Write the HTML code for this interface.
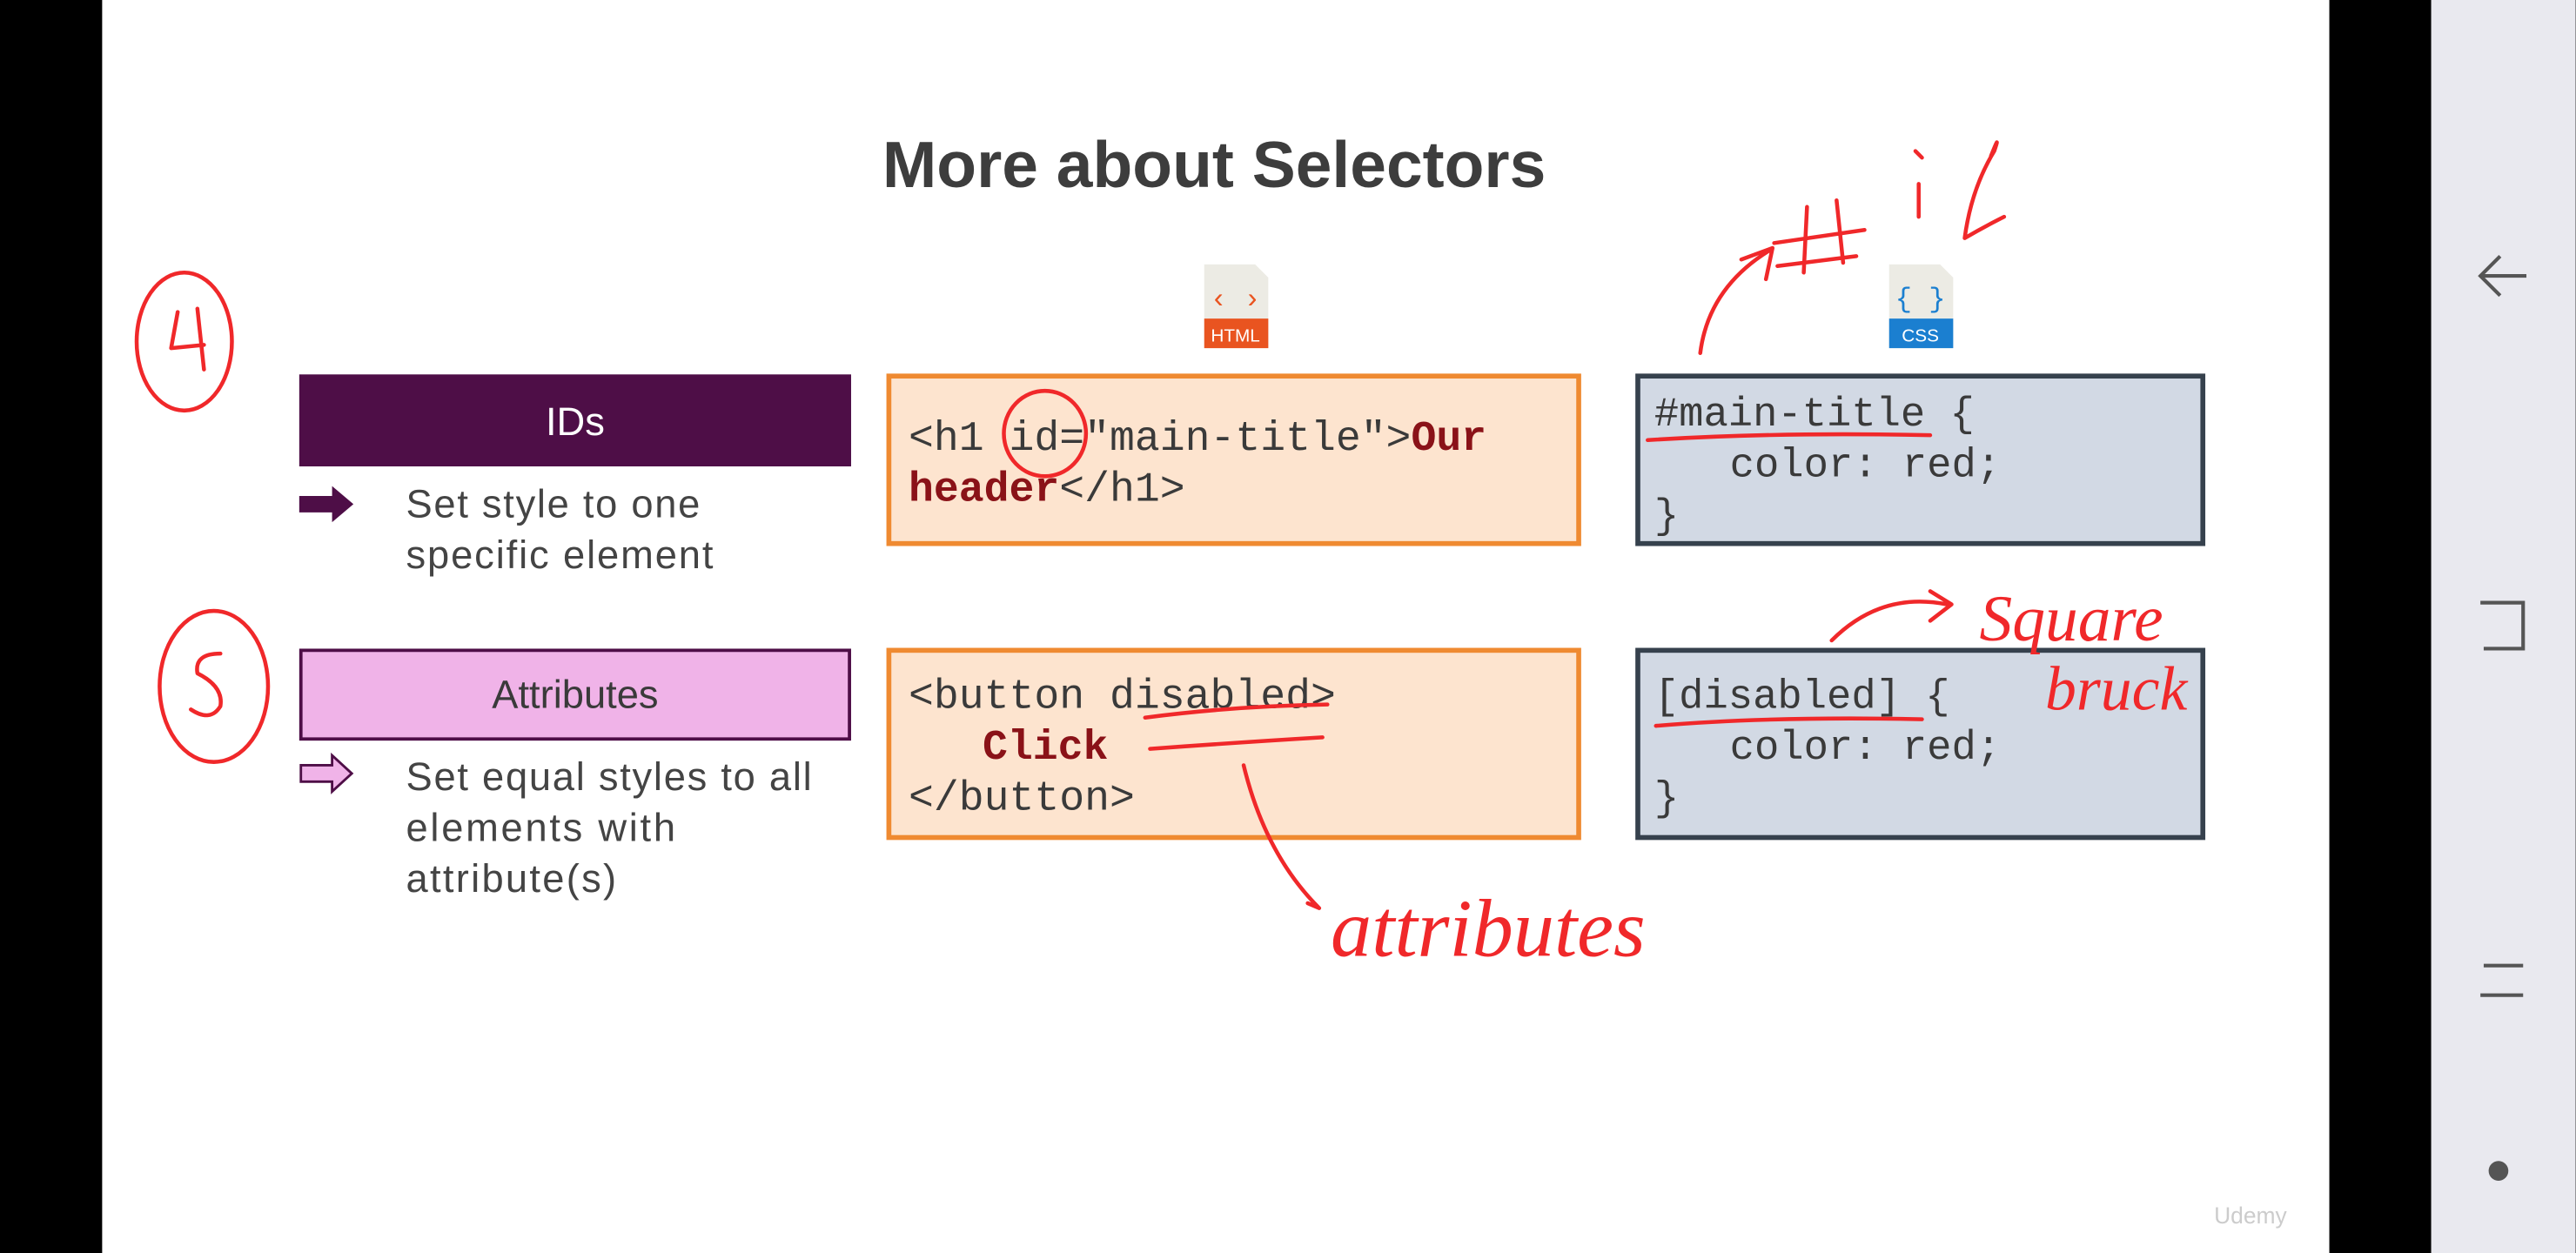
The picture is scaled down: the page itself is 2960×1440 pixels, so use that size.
<!DOCTYPE html>
<html><head><meta charset="utf-8"><style>
html,body{margin:0;padding:0;background:#000;}
svg{display:block;}
</style></head><body>
<svg width="2960" height="1440" viewBox="0 0 1568 763" xmlns="http://www.w3.org/2000/svg">
<rect x="0" y="0" width="1568" height="763" fill="#000"/>
<rect x="62" y="0" width="1356" height="763" fill="#ffffff"/>
<rect x="1480" y="0" width="88" height="763" fill="#e9e9ef"/>
<g stroke="#555" stroke-width="2.2" fill="none">
<path d="M1538 168 H1510 M1522 156 L1510 168 L1522 180"/>
<path d="M1510 367 H1536 V395 H1512"/>
<path d="M1536 588 H1512 M1510 606 H1536"/>
</g>
<circle cx="1521" cy="713" r="6" fill="#555"/>

<text x="537" y="114" textLength="404" lengthAdjust="spacingAndGlyphs" font-family="Liberation Sans, sans-serif" font-weight="bold" font-size="40" fill="#3d3d3d">More about Selectors</text>

<g>
<path d="M733 161 H764 L772 169 V212 H733 Z" fill="#ecebe4"/>
<rect x="733" y="194" width="39" height="18" fill="#e95420"/>
<text x="752" y="208" text-anchor="middle" font-family="Liberation Sans, sans-serif" font-size="11" fill="#fff">HTML</text>
<text x="752" y="187" text-anchor="middle" font-family="Liberation Mono, monospace" font-size="17" fill="#e95420">‹ ›</text>
<path d="M1150 161 H1181 L1189 169 V212 H1150 Z" fill="#ecebe4"/>
<rect x="1150" y="194" width="39" height="18" fill="#1b7fd0"/>
<text x="1169" y="208" text-anchor="middle" font-family="Liberation Sans, sans-serif" font-size="11" fill="#fff">CSS</text>
<text x="1169" y="187" text-anchor="middle" font-family="Liberation Mono, monospace" font-size="17" fill="#1b7fd0">{ }</text>
</g>

<rect x="182" y="228" width="336" height="56" fill="#4e0e47"/>
<text x="350" y="265" text-anchor="middle" font-family="Liberation Sans, sans-serif" font-size="24" fill="#fff">IDs</text>
<path d="M182 302 H202 V296 L215 307 L202 318 V312 H182 Z" fill="#4e0e47"/>
<g font-family="Liberation Sans, sans-serif" font-size="24" fill="#444" lengthAdjust="spacingAndGlyphs">
<text x="247" y="315" textLength="179">Set style to one</text>
<text x="247" y="346" textLength="187">specific element</text>
</g>
<rect x="541" y="229" width="420" height="102" fill="#fde4cf" stroke="#ef8a31" stroke-width="3"/>
<g font-family="Liberation Mono, monospace" font-size="25.5" fill="#3a3a3a">
<text x="553" y="274">&lt;h1 id="main-title"&gt;<tspan fill="#8a1218" font-weight="bold">Our</tspan></text>
<text x="553" y="305"><tspan fill="#8a1218" font-weight="bold">header</tspan>&lt;/h1&gt;</text>
</g>
<rect x="997" y="229" width="344" height="102" fill="#d2d9e4" stroke="#36414d" stroke-width="3"/>
<g font-family="Liberation Mono, monospace" font-size="25" fill="#3a3a3a">
<text x="1007" y="259">#main-title {</text>
<text x="1053" y="290">color: red;</text>
<text x="1007" y="321">}</text>
</g>

<rect x="183" y="396" width="334" height="54" fill="#f0b3e8" stroke="#4e0e47" stroke-width="2"/>
<text x="350" y="431" text-anchor="middle" font-family="Liberation Sans, sans-serif" font-size="24" fill="#3a3a3a">Attributes</text>
<path d="M183 466 H202 V460 L214 471 L202 482 V476 H183 Z" fill="#f0b3e8" stroke="#4e0e47" stroke-width="1.5"/>
<g font-family="Liberation Sans, sans-serif" font-size="24" fill="#444" lengthAdjust="spacingAndGlyphs">
<text x="247" y="481" textLength="247">Set equal styles to all</text>
<text x="247" y="512" textLength="164">elements with</text>
<text x="247" y="543" textLength="128">attribute(s)</text>
</g>
<rect x="541" y="396" width="420" height="114" fill="#fde4cf" stroke="#ef8a31" stroke-width="3"/>
<g font-family="Liberation Mono, monospace" font-size="25.5" fill="#3a3a3a">
<text x="553" y="431">&lt;button disabled&gt;</text>
<text x="598" y="462" fill="#8a1218" font-weight="bold">Click</text>
<text x="553" y="493">&lt;/button&gt;</text>
</g>
<rect x="997" y="396" width="344" height="114" fill="#d2d9e4" stroke="#36414d" stroke-width="3"/>
<g font-family="Liberation Mono, monospace" font-size="25" fill="#3a3a3a">
<text x="1007" y="431">[disabled] {</text>
<text x="1053" y="462">color: red;</text>
<text x="1007" y="493">}</text>
</g>

<text x="1370" y="745" text-anchor="middle" font-family="Liberation Sans, sans-serif" font-size="14" fill="#ccc">Udemy</text>

<g stroke="#f0282a" stroke-width="2.4" fill="none" stroke-linecap="round" stroke-linejoin="round">
<ellipse cx="112" cy="208" rx="29" ry="42"/>
<path d="M108 190 L104 212 L124 210 M120 188 L124 225"/>
<ellipse cx="130" cy="418" rx="33" ry="46"/>
<path d="M134 398 Q118 398 120 410 Q136 418 134 430 Q128 440 116 432"/>
<ellipse cx="636" cy="264" rx="25" ry="26"/>
<path d="M1035 215 Q1040 175 1078 152 M1060 158 L1079 151 L1075 170"/>
<path d="M1080 148 L1135 140 M1082 162 L1130 156 M1100 126 L1098 166 M1118 122 L1122 160"/>
<path d="M1168 112 L1168 132 M1166 92 L1170 96 M1212 95 Q1218 80 1214 92 Q1200 115 1196 145 Q1208 138 1220 132"/>
<path d="M1003 268 Q1080 263 1175 265"/>
<path d="M1115 390 Q1145 360 1185 368 M1175 360 L1188 368 L1175 378"/>
<path d="M1008 442 Q1080 436 1170 438"/>
<path d="M697 437 Q750 430 808 429 M700 456 Q755 452 805 449"/>
<path d="M757 466 Q770 520 803 553 L796 550"/>
</g>
<g font-family="Liberation Serif, serif" font-style="italic" fill="#f0282a">
<text x="1205" y="390" font-size="40">Square</text>
<text x="1245" y="432" font-size="38">bruck</text>
<text x="810" y="582" font-size="50">attributes</text>
</g>
</svg>
</body></html>
